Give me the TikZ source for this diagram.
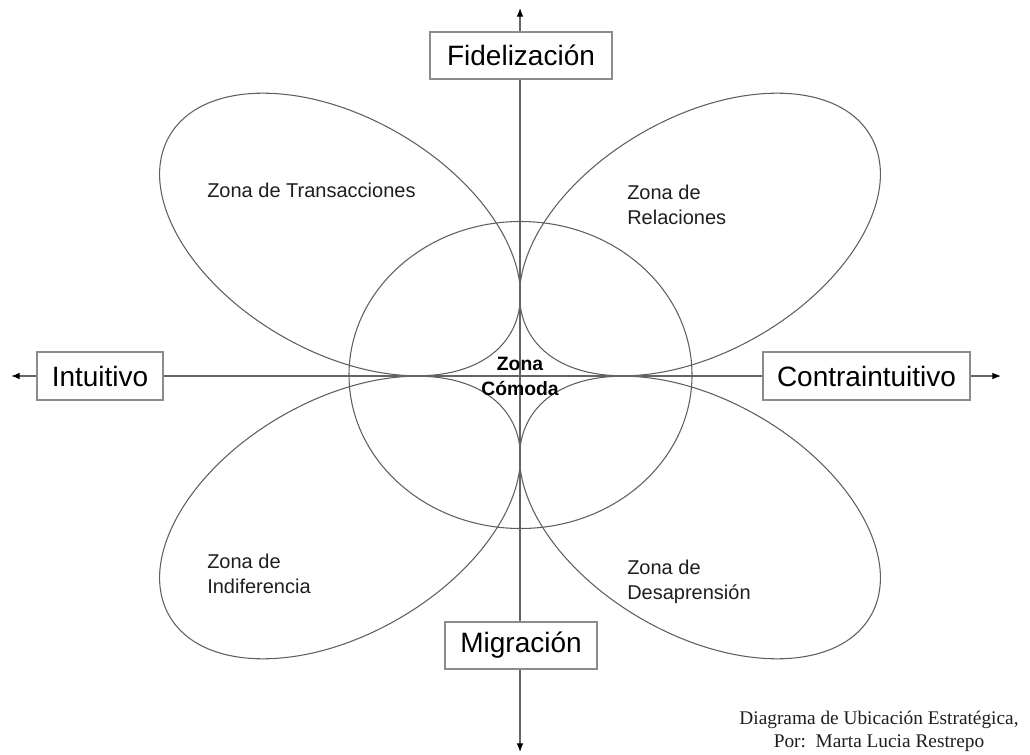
\documentclass[tikz,border=0pt]{standalone}
\usepackage{fontspec}
\setmainfont{Liberation Sans}
\newfontfamily\footerfont{Liberation Serif}
\usetikzlibrary{arrows.meta}
\definecolor{axiscol}{RGB}{100,100,100}
\definecolor{ellcol}{RGB}{95,95,95}
\definecolor{boxcol}{RGB}{140,140,140}
\definecolor{txtcol}{RGB}{30,30,30}
\begin{document}
\begin{tikzpicture}[x=0.75pt,y=-0.75pt,
  axisline/.style={draw=axiscol,line width=0.9pt,{Latex[length=6.5pt,width=5pt,color=black]}-{Latex[length=6.5pt,width=5pt,color=black]}},
  petal/.style={draw=ellcol,line width=0.8pt},
  axisbox/.style={draw=boxcol,line width=1.8pt,fill=white,inner sep=0pt,font=\fontsize{21}{25}\selectfont,text=black},
  zonelabel/.style={anchor=west,align=left,inner sep=0pt,font=\fontsize{15}{18.75}\selectfont,text=txtcol},
  centerlabel/.style={align=center,inner sep=0pt,font=\fontsize{14.5}{18.75}\selectfont\bfseries,text=black},
  footer/.style={align=center,inner sep=0pt,font=\footerfont\fontsize{14.5}{17.5}\selectfont,text=txtcol}]
\useasboundingbox (0,0) rectangle (1030,755);
% axis end points
\coordinate (topend) at (520,8);
\coordinate (bottomend) at (520,752);
\coordinate (leftend) at (11,376);
\coordinate (rightend) at (1001,376);
% petals and central ellipse
\draw[petal,rotate around={-30:(340,234.5)}] (340,234.5) ellipse [x radius=197,y radius=117];
\draw[petal,rotate around={30:(700,234.5)}] (700,234.5) ellipse [x radius=197,y radius=117];
\draw[petal,rotate around={30:(340,517.5)}] (340,517.5) ellipse [x radius=197,y radius=117];
\draw[petal,rotate around={-30:(700,517.5)}] (700,517.5) ellipse [x radius=197,y radius=117];
\draw[petal] (520.5,375) ellipse [x radius=171.5,y radius=153.5];
% axes
\draw[axisline] (topend) -- (bottomend);
\draw[axisline] (leftend) -- (rightend);
% axis boxes
\node[axisbox,minimum width=136.5pt,minimum height=35.25pt] (fid) at (521,55.5) {Fidelización};
\node[axisbox,minimum width=114pt,minimum height=35.25pt] (mig) at (521,645.5) {Migración};
\node[axisbox,minimum width=94.5pt,minimum height=36pt] (intu) at (100,376) {Intuitivo};
\node[axisbox,minimum width=155.25pt,minimum height=36pt] (contra) at (866.5,376) {Contraintuitivo};
% zone labels
\node[zonelabel] (trans) at (207,190.5) {Zona de Transacciones};
\node[zonelabel] (rel) at (627,204.5) {Zona de\\Relaciones};
\node[zonelabel] (indif) at (207,573.5) {Zona de\\Indiferencia};
\node[zonelabel] (desap) at (627,582) {Zona de\\Desaprensión};
\node[centerlabel] (comoda) at (520,376) {Zona\\Cómoda};
% footer
\node[footer] (credit) at (879,731) {Diagrama de Ubicación Estratégica,\\Por:\ \ Marta Lucia Restrepo};
\end{tikzpicture}
\end{document}
